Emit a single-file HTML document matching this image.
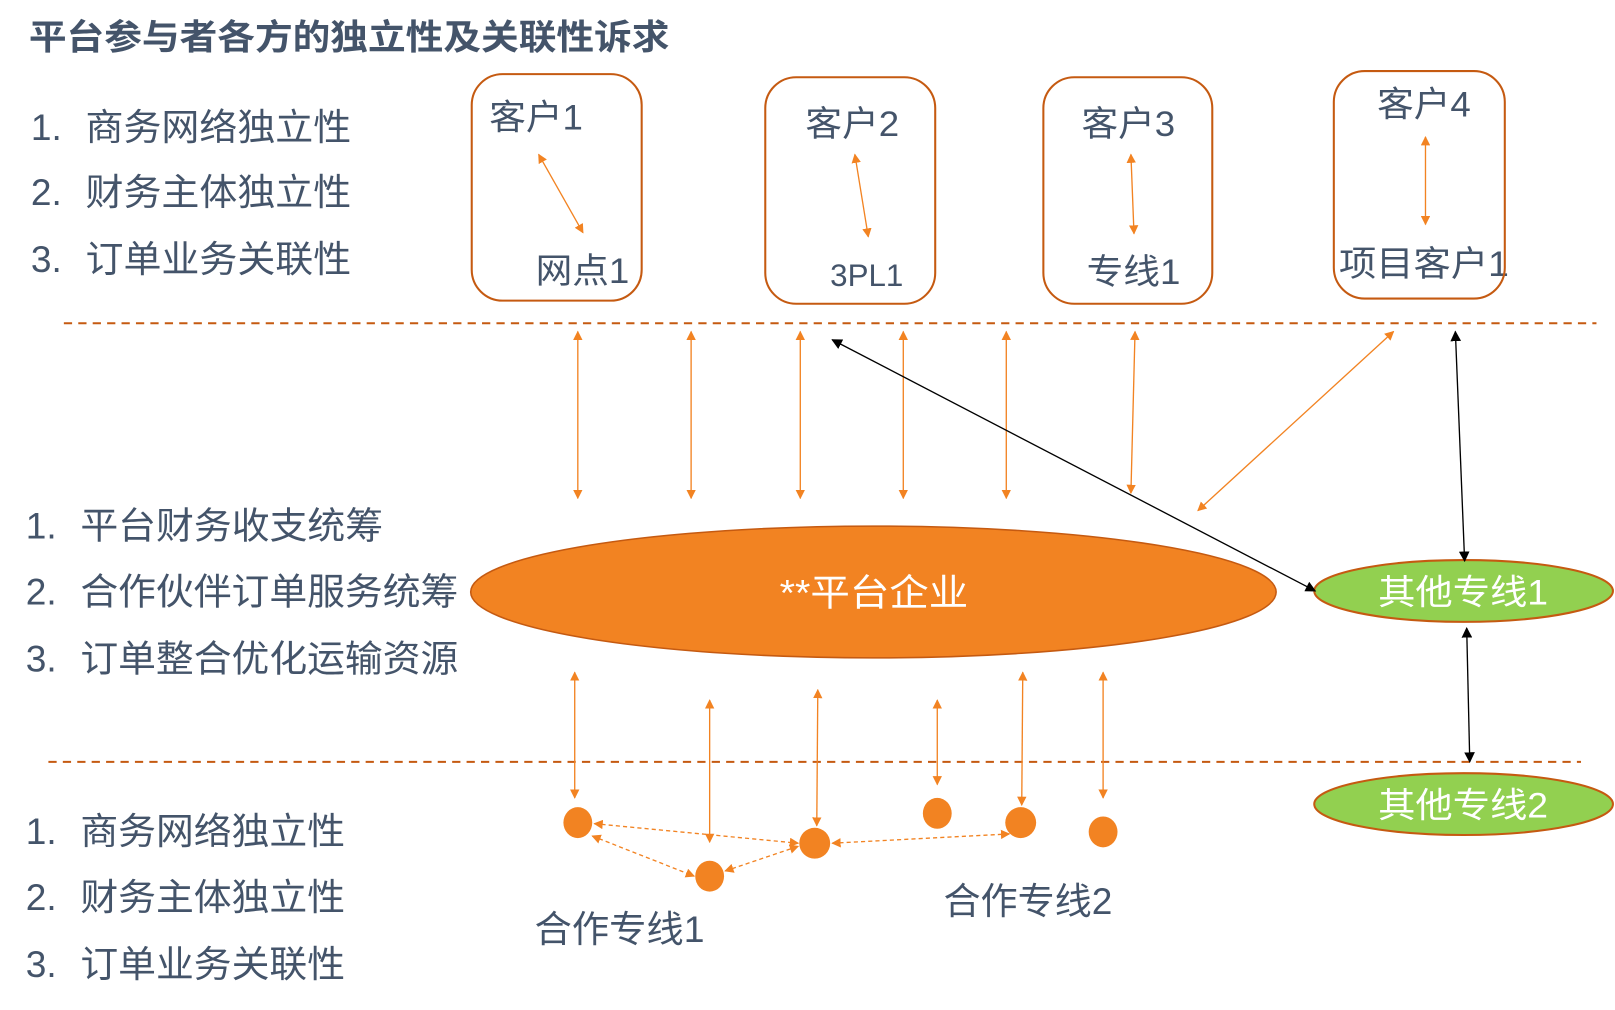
<!DOCTYPE html>
<html><head><meta charset="utf-8"><style>
html,body{margin:0;padding:0;background:#fff;}
svg{display:block;}
text{font-family:"Liberation Sans","Noto Sans CJK SC",sans-serif;}
</style></head><body>
<svg width="1615" height="1010" viewBox="0 0 1568 981" preserveAspectRatio="none" xmlns="http://www.w3.org/2000/svg">
<defs>
<marker id="o" viewBox="0 0 10 10" refX="9" refY="5" markerWidth="7" markerHeight="7" orient="auto-start-reverse"><path d="M0,0L10,5L0,10z" fill="#f28322"/></marker>
<marker id="b" viewBox="0 0 10 10" refX="9" refY="5" markerWidth="8" markerHeight="8" orient="auto-start-reverse"><path d="M0,0L10,5L0,10z" fill="#000"/></marker>
</defs>
<g fill="#44546a" lengthAdjust="spacingAndGlyphs">
<text x="28" y="48" font-size="34" font-weight="bold" textLength="622" lengthAdjust="spacingAndGlyphs">平台参与者各方的独立性及关联性诉求</text>
<g font-size="36">
<text x="30" y="136">1.</text><text x="83" y="136" textLength="258" lengthAdjust="spacingAndGlyphs">商务网络独立性</text>
<text x="30" y="199">2.</text><text x="83" y="199" textLength="258" lengthAdjust="spacingAndGlyphs">财务主体独立性</text>
<text x="30" y="264">3.</text><text x="83" y="264" textLength="258" lengthAdjust="spacingAndGlyphs">订单业务关联性</text>
<text x="25" y="523">1.</text><text x="78" y="523" textLength="294" lengthAdjust="spacingAndGlyphs">平台财务收支统筹</text>
<text x="25" y="587">2.</text><text x="78" y="587" textLength="367" lengthAdjust="spacingAndGlyphs">合作伙伴订单服务统筹</text>
<text x="25" y="652">3.</text><text x="78" y="652" textLength="367" lengthAdjust="spacingAndGlyphs">订单整合优化运输资源</text>
<text x="25" y="820">1.</text><text x="78" y="820" textLength="257" lengthAdjust="spacingAndGlyphs">商务网络独立性</text>
<text x="25" y="884">2.</text><text x="78" y="884" textLength="257" lengthAdjust="spacingAndGlyphs">财务主体独立性</text>
<text x="25" y="949">3.</text><text x="78" y="949" textLength="257" lengthAdjust="spacingAndGlyphs">订单业务关联性</text>
<text x="519" y="915" textLength="165" lengthAdjust="spacingAndGlyphs">合作专线1</text>
<text x="916" y="888" textLength="164" lengthAdjust="spacingAndGlyphs">合作专线2</text>
</g>
<g font-size="34">
<text x="475" y="126" textLength="91" lengthAdjust="spacingAndGlyphs">客户1</text><text x="520" y="275" textLength="91" lengthAdjust="spacingAndGlyphs">网点1</text>
<text x="782" y="132" textLength="91" lengthAdjust="spacingAndGlyphs">客户2</text><text x="806" y="278" font-size="31" textLength="71" lengthAdjust="spacingAndGlyphs">3PL1</text>
<text x="1050" y="132" textLength="91" lengthAdjust="spacingAndGlyphs">客户3</text><text x="1055" y="276" textLength="91" lengthAdjust="spacingAndGlyphs">专线1</text>
<text x="1337" y="113" textLength="91" lengthAdjust="spacingAndGlyphs">客户4</text><text x="1300" y="268" textLength="165" lengthAdjust="spacingAndGlyphs">项目客户1</text>
</g>
</g>
<g fill="none" stroke="#c55a11" stroke-width="2">
<rect x="458" y="72" width="165" height="220" rx="30"/>
<rect x="743" y="75" width="165" height="220" rx="30"/>
<rect x="1013" y="75" width="164" height="220" rx="30"/>
<rect x="1295" y="69" width="166" height="221" rx="30"/>
<line x1="62" y1="314" x2="1550" y2="314" stroke-dasharray="8,6"/>
<line x1="47" y1="740" x2="1535" y2="740" stroke-dasharray="8,6"/>
</g>
<ellipse cx="848" cy="575" rx="391" ry="64" fill="#f28322" stroke="#c55a11" stroke-width="1.5"/>
<ellipse cx="1421" cy="574" rx="145" ry="30" fill="#92d050" stroke="#c55a11" stroke-width="2"/>
<ellipse cx="1421" cy="781" rx="145" ry="30" fill="#92d050" stroke="#c55a11" stroke-width="2"/>
<g fill="#fff">
<text x="757" y="588" font-size="36" textLength="183" lengthAdjust="spacingAndGlyphs">**平台企业</text>
<text x="1338" y="587" font-size="34" textLength="165" lengthAdjust="spacingAndGlyphs">其他专线1</text>
<text x="1338" y="794" font-size="34" textLength="165" lengthAdjust="spacingAndGlyphs">其他专线2</text>
</g>
<g stroke="#f28322" stroke-width="1.3" marker-start="url(#o)" marker-end="url(#o)">
<line x1="561" y1="322" x2="561" y2="484"/>
<line x1="671" y1="322" x2="671" y2="484"/>
<line x1="777" y1="322" x2="777" y2="484"/>
<line x1="877" y1="322" x2="877" y2="484"/>
<line x1="977" y1="322" x2="977" y2="484"/>
<line x1="1102" y1="322" x2="1098" y2="479"/>
<line x1="1353" y1="322" x2="1163" y2="496"/>
<line x1="558" y1="653" x2="558" y2="775"/>
<line x1="689" y1="680" x2="689" y2="818"/>
<line x1="794" y1="670" x2="793" y2="802"/>
<line x1="910" y1="680" x2="910" y2="762"/>
<line x1="993" y1="653" x2="992" y2="782"/>
<line x1="1071" y1="653" x2="1071" y2="775"/>
<line x1="523" y1="150" x2="566" y2="226"/>
<line x1="830" y1="150" x2="843" y2="230"/>
<line x1="1098" y1="150" x2="1101" y2="227"/>
<line x1="1384" y1="133" x2="1384" y2="218"/>
</g>
<g stroke="#f28322" stroke-width="1.3" stroke-dasharray="4,3" marker-start="url(#o)" marker-end="url(#o)">
<line x1="577" y1="800" x2="775" y2="819"/>
<line x1="575" y1="812" x2="674" y2="851"/>
<line x1="704" y1="846" x2="775" y2="822"/>
<line x1="808" y1="819" x2="980" y2="810"/>
</g>
<g stroke="#000" stroke-width="1.3" marker-start="url(#b)" marker-end="url(#b)">
<line x1="808" y1="330" x2="1277" y2="574"/>
<line x1="1413" y1="322" x2="1422" y2="545"/>
<line x1="1424" y1="610" x2="1427" y2="740"/>
</g>
<g fill="#f28322">
<ellipse cx="561" cy="799" rx="14" ry="15"/>
<ellipse cx="689" cy="851" rx="14" ry="15"/>
<ellipse cx="791" cy="819" rx="15" ry="15"/>
<ellipse cx="910" cy="790" rx="14" ry="15"/>
<ellipse cx="991" cy="799" rx="15" ry="15"/>
<ellipse cx="1071" cy="808" rx="14" ry="15"/>
</g>
</svg>
</body></html>
